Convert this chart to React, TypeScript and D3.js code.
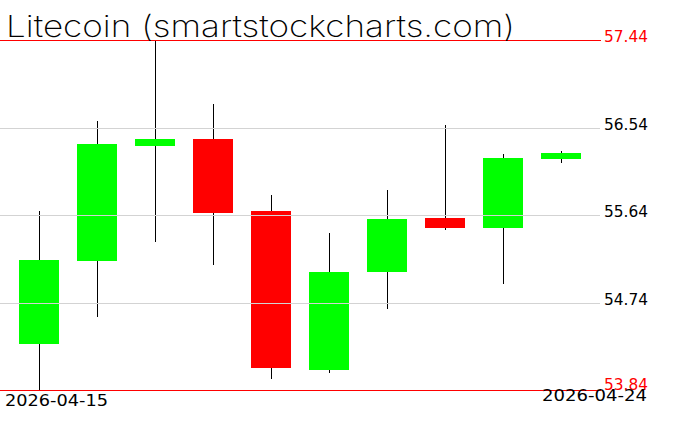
import React from "react";
import * as d3 from "d3";

const dates = [
  "2026-04-15", "2026-04-16", "2026-04-17", "2026-04-18", "2026-04-19",
  "2026-04-20", "2026-04-21", "2026-04-22", "2026-04-23", "2026-04-24",
];
const opens = [54.32, 55.17, 56.35, 56.42, 55.68, 54.04, 55.05, 55.61, 55.51, 56.22];
const highs = [55.68, 56.61, 57.44, 56.78, 55.85, 55.46, 55.9, 56.57, 56.27, 56.3];
const lows = [53.84, 54.59, 55.36, 55.13, 53.95, 54.02, 54.67, 55.49, 54.93, 56.17];
const closes = [55.18, 56.37, 56.42, 55.66, 54.07, 55.05, 55.6, 55.51, 56.23, 56.28];

const gridTicks = [54.74, 55.64, 56.54];
const minPrice = 53.84;
const maxPrice = 57.44;
const title = "Litecoin (smartstockcharts.com)";

const W = 676;
const H = 431;
const FONT = "'DejaVu Sans', sans-serif";

export default function App() {
  const x = d3
    .scaleBand<string>()
    .domain(dates)
    .range([10, 590])
    .paddingInner(0.31)
    .paddingOuter(0.155);
  const y = d3.scaleLinear().domain([minPrice, maxPrice]).range([390, 40]);
  const bw = x.bandwidth();
  const fmt = d3.format(".2f");
  const lineEnd = 601;

  return (
    <svg
      width={W}
      height={H}
      style={{ position: "absolute", left: 0, top: 0, background: "#fff" }}
    >
      <rect x={0} y={0} width={W} height={H} fill="#fff" />
      {dates.map((d, i) => {
        const cx = Math.round((x(d) as number) + bw / 2) + 0.5;
        const up = closes[i] >= opens[i];
        const top = y(Math.max(opens[i], closes[i]));
        const bot = y(Math.min(opens[i], closes[i]));
        return (
          <g key={d}>
            <line
              x1={cx}
              x2={cx}
              y1={Math.round(y(highs[i]))}
              y2={Math.round(y(lows[i]))}
              stroke="#000"
              strokeWidth={1}
            />
            <rect
              x={Math.round(x(d) as number)}
              y={Math.round(top)}
              width={Math.round(bw)}
              height={Math.max(2, Math.round(bot - top))}
              fill={up ? "#00ff00" : "#ff0000"}
            />
          </g>
        );
      })}
      {gridTicks.map((t) => {
        const yy = Math.round(y(t)) + 0.5;
        return (
          <g key={t}>
            <line x1={0} x2={600} y1={yy} y2={yy} stroke="#d3d3d3" strokeWidth={1} />
            <text
              x={604}
              y={yy + 1}
              fontFamily={FONT}
              fontSize={15}
              fill="#000"
              textLength={44}
              lengthAdjust="spacingAndGlyphs"
            >
              {fmt(t)}
            </text>
          </g>
        );
      })}
      {[maxPrice, minPrice].map((t) => {
        const yy = Math.round(y(t)) + 0.5;
        return (
          <g key={t}>
            <line x1={0} x2={lineEnd} y1={yy} y2={yy} stroke="#ff0000" strokeWidth={1} />
            <text
              x={604}
              y={t === maxPrice ? yy + 1 : yy - 1}
              fontFamily={FONT}
              fontSize={15}
              fill="#ff0000"
              textLength={44}
              lengthAdjust="spacingAndGlyphs"
            >
              {fmt(t)}
            </text>
          </g>
        );
      })}
      <text
        x={5}
        y={406}
        fontFamily={FONT}
        fontSize={15}
        fill="#000"
        textLength={103}
        lengthAdjust="spacingAndGlyphs"
      >
        {dates[0]}
      </text>
      <text
        x={542}
        y={401}
        fontFamily={FONT}
        fontSize={15}
        fill="#000"
        textLength={105}
        lengthAdjust="spacingAndGlyphs"
      >
        {dates[dates.length - 1]}
      </text>
      <text
        x={6}
        y={37}
        fontFamily="Inter, 'DejaVu Sans', sans-serif"
        fontWeight={200}
        fontSize={30}
        fill="#000"
        textLength={509}
        lengthAdjust="spacingAndGlyphs"
      >
        {title}
      </text>
    </svg>
  );
}
